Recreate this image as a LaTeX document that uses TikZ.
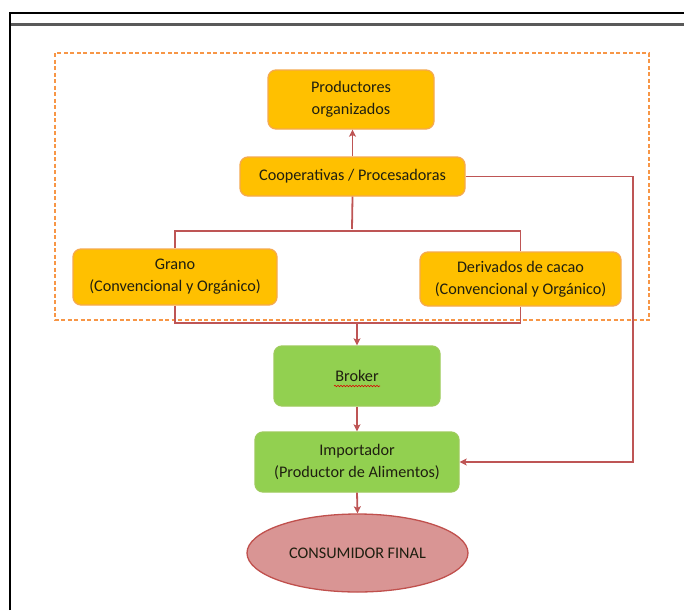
\documentclass[tikz,border=0pt]{standalone}
\usepackage{fontspec}
\setmainfont{Carlito}
\usetikzlibrary{shapes.geometric,arrows.meta,decorations.pathmorphing}

\definecolor{boxgold}{HTML}{FFC000}
\definecolor{boxgoldline}{HTML}{F5A94E}
\definecolor{boxgreen}{HTML}{92D050}
\definecolor{boxgreenline}{HTML}{9CCB5A}
\definecolor{linkred}{HTML}{BE5555}
\definecolor{ovalfill}{HTML}{D99594}
\definecolor{ovalline}{HTML}{C0504D}
\definecolor{groupline}{HTML}{F79646}
\definecolor{txt}{HTML}{1F1F10}

\tikzset{
  box/.style={rounded corners=8pt, line width=1.3pt, align=center,
    text=txt, font=\fontsize{16.2}{22}\selectfont, inner sep=0pt},
  goldbox/.style={box, fill=boxgold, draw=boxgoldline},
  greenbox/.style={box, fill=boxgreen, draw=boxgreenline},
  conn/.style={draw=linkred, line width=1.8pt},
  tip/.style={-{Stealth[length=7pt,width=7pt,inset=1.5pt]}},
}

\begin{document}
\begin{tikzpicture}[x=1pt,y=-1pt]
\useasboundingbox (0,0) rectangle (684,610);

% page frame
\draw[line width=3pt, gray!70!black] (10,25) -- (684,25);
\draw[line width=2.5pt, black] (10,610) -- (10,13) -- (684,13);

% group of producing organisations
\draw[groupline, line width=1.6pt, dash pattern=on 4pt off 2.5pt] (55,53) rectangle (649,320);

% nodes
\node[goldbox, minimum width=166pt, minimum height=59pt] (prod) at (351,99.5) {Productores\\organizados};
\node[goldbox, minimum width=225pt, minimum height=39pt] (coop) at (352.5,176.5) {Cooperativas / Procesadoras};
\node[goldbox, minimum width=204pt, minimum height=56pt] (grano) at (175,277) {Grano\\(Convencional y Orgánico)};
\node[goldbox, minimum width=201pt, minimum height=54pt] (deriv) at (520.5,279) {Derivados de cacao\\(Convencional y Orgánico)};
\node[greenbox, minimum width=166pt, minimum height=60pt] (broker) at (357,376) {Broker};
\node[greenbox, minimum width=204pt, minimum height=60pt] (imp) at (357,462) {Importador\\(Productor de Alimentos)};
\node[ellipse, fill=ovalfill, draw=ovalline, line width=1.3pt, text=txt,
      font=\fontsize{16.2}{19}\selectfont, minimum width=221pt, minimum height=78pt, inner sep=0pt]
      (cons) at (357.5,553) {CONSUMIDOR FINAL};

% spelling mark under Broker
\draw[red!85!black, line width=0.6pt, decorate, decoration={snake, amplitude=0.7pt, segment length=3pt}]
  ([xshift=-23pt,yshift=-10pt]broker.center) -- ([xshift=23pt,yshift=-10pt]broker.center);

% helper points
\coordinate (split) at (352,231);
\coordinate (merge) at (357,323);
\coordinate (side) at (633,177);

% connectors
\draw[conn,tip] (coop.north) -- (coop.north |- prod.south);
\draw[conn] (coop.south) -- ([yshift=2pt]split);
\draw[conn] (grano.north) |- (split) -| (deriv.north);
\draw[conn] (grano.south) |- (merge) -| (deriv.south);
\draw[conn,tip] (merge) -- (broker.north);
\draw[conn,tip] (broker.south) -- (imp.north);
\draw[conn,tip] (imp.south) -- (cons.north);
\draw[conn,tip] (coop.east) -- (coop.east -| side) |- (imp.east);
\end{tikzpicture}
\end{document}
